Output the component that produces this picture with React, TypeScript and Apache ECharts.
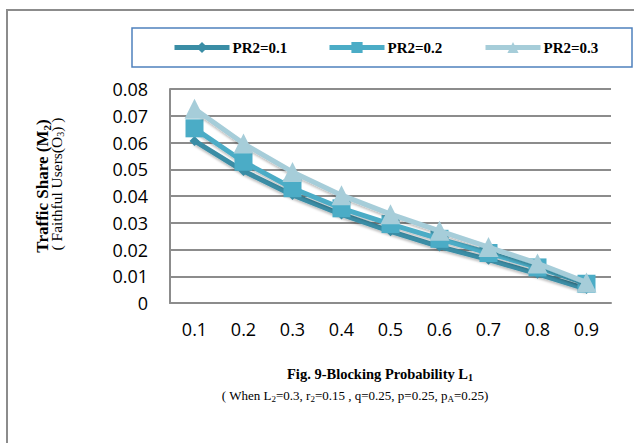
import React, { useEffect, useRef } from "react";
import * as echarts from "echarts";

const categories = ["0.1", "0.2", "0.3", "0.4", "0.5", "0.6", "0.7", "0.8", "0.9"];
const seriesNames = ["PR2=0.1", "PR2=0.2", "PR2=0.3"];
const pr01 = [0.0606, 0.0493, 0.0404, 0.0331, 0.0268, 0.0211, 0.0162, 0.0109, 0.0052];
const pr02 = [0.0653, 0.0528, 0.0429, 0.0354, 0.0295, 0.024, 0.0187, 0.0133, 0.0072];
const pr03 = [0.0726, 0.0596, 0.049, 0.0403, 0.0332, 0.027, 0.0209, 0.0148, 0.0077];
const colors = ["#3a8da5", "#4bacc6", "#a6cdd9"];
const symbols = ["diamond", "rect", "triangle"];
const symbolSizes = [10, 18, 20];
const legendLefts = [172, 327, 483];

const serif = "'Liberation Serif', 'Times New Roman', serif";
const sans = "'Open Sans', 'Noto Sans', sans-serif";

export default function App() {
  const ref = useRef<HTMLDivElement>(null);
  useEffect(() => {
    const chart = echarts.init(ref.current!, null, { renderer: "svg" });
    const data = [pr01, pr02, pr03];
    chart.setOption({
      animation: false,
      backgroundColor: "#ffffff",
      grid: { left: 170, right: 23, top: 89, bottom: 140 },
      legend: seriesNames.map((n, i) => ({
        data: [n],
        left: legendLefts[i],
        top: 40,
        padding: 0,
        itemWidth: 55,
        itemHeight: 14,
        itemGap: 4,
        lineStyle: { width: 5, color: colors[i] },
        textStyle: { fontFamily: serif, fontWeight: "bold", fontSize: 15, color: "#000", padding: [0, 0, 0, -2] },
      })),
      xAxis: {
        type: "category",
        data: categories,
        boundaryGap: true,
        axisLine: { show: true, lineStyle: { color: "#8c8c8c", width: 2 } },
        axisTick: { show: false },
        axisLabel: { fontFamily: sans, fontSize: 18, color: "#000", margin: 17 },
        splitLine: { show: false },
      },
      yAxis: {
        type: "value",
        min: 0,
        max: 0.08,
        interval: 0.01,
        axisLine: { show: true, lineStyle: { color: "#8c8c8c", width: 2 } },
        axisTick: { show: false },
        axisLabel: {
          fontFamily: sans,
          fontSize: 18,
          color: "#000",
          margin: 22,
          formatter: (v: number) => (v === 0 ? "0" : v.toFixed(2)),
        },
        splitLine: { show: true, lineStyle: { color: "#8c8c8c", width: 2 } },
      },
      series: seriesNames.map((n, i) => ({
        name: n,
        type: "line",
        data: data[i],
        symbol: symbols[i],
        symbolSize: symbolSizes[i],
        z: 2 + i,
        color: colors[i],
        lineStyle: {
          width: 5,
          color: colors[i],
          shadowColor: "rgba(0,0,0,0.25)",
          shadowBlur: 2,
          shadowOffsetY: 2,
        },
        itemStyle: { color: colors[i] },
      })),
      graphic: [
        {
          type: "polyline",
          shape: { points: [[7, 443], [7, 10], [634, 10]] },
          style: { stroke: "#8c8c8c", lineWidth: 2, fill: "none" },
          silent: true,
        },
        {
          type: "rect",
          shape: { x: 132, y: 28, width: 500, height: 39 },
          style: { stroke: "#4f81bd", lineWidth: 1.5, fill: "none" },
          silent: true,
        },
        {
          type: "text",
          x: 43,
          y: 186,
          rotation: Math.PI / 2,
          style: {
            text: "{b|Traffic Share (M}{bs|2}{b|)}",
            textAlign: "center",
            textVerticalAlign: "middle",
            rich: {
              b: { fontFamily: serif, fontWeight: "bold", fontSize: 17, color: "#000", lineHeight: 18, verticalAlign: "top" },
              bs: { fontFamily: serif, fontWeight: "bold", fontSize: 11, color: "#000", lineHeight: 18, verticalAlign: "bottom" },
            },
          },
        },
        {
          type: "text",
          x: 57,
          y: 184,
          rotation: Math.PI / 2,
          style: {
            text: "{r|( Faithful Users(O}{rs|3}{r|) )}",
            textAlign: "center",
            textVerticalAlign: "middle",
            rich: {
              r: { fontFamily: serif, fontSize: 15.5, color: "#000", lineHeight: 17, verticalAlign: "top" },
              rs: { fontFamily: serif, fontSize: 10, color: "#000", lineHeight: 17, verticalAlign: "bottom" },
            },
          },
        },
        {
          type: "text",
          x: 380,
          y: 374,
          style: {
            text: "{b|Fig. 9-Blocking Probability L}{bs|1}",
            textAlign: "center",
            textVerticalAlign: "middle",
            rich: {
              b: { fontFamily: serif, fontWeight: "bold", fontSize: 14.5, color: "#000", lineHeight: 16, verticalAlign: "top" },
              bs: { fontFamily: serif, fontWeight: "bold", fontSize: 10, color: "#000", lineHeight: 16, verticalAlign: "bottom" },
            },
          },
        },
        {
          type: "text",
          x: 355,
          y: 396,
          style: {
            text: "{r|( When L}{s|2}{r|=0.3, r}{s|2}{r|=0.15 , q=0.25, p=0.25, p}{s|A}{r|=0.25)}",
            textAlign: "center",
            textVerticalAlign: "middle",
            rich: {
              r: { fontFamily: serif, fontSize: 13, color: "#000", lineHeight: 15, verticalAlign: "top" },
              s: { fontFamily: serif, fontSize: 9, color: "#000", lineHeight: 15, verticalAlign: "bottom" },
            },
          },
        },
      ],
    });
    return () => chart.dispose();
  }, []);
  return (
    <div
      ref={ref}
      style={{ position: "absolute", left: 0, top: 0, width: 634, height: 443, background: "#fff" }}
    />
  );
}
